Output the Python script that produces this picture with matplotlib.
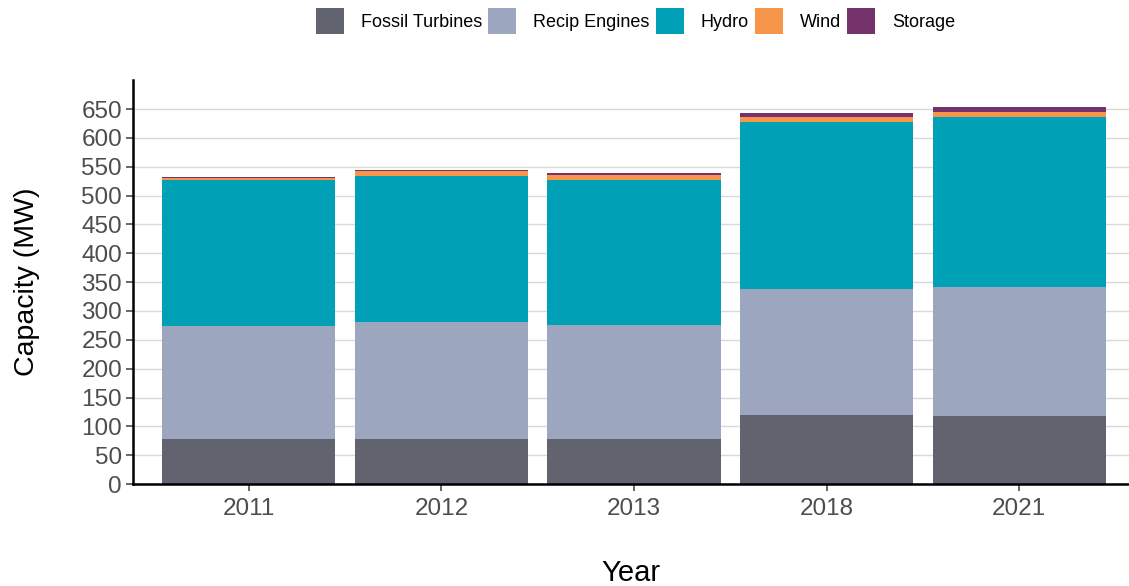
import matplotlib.pyplot as plt
import numpy as np

plt.rcParams['font.family'] = ['Liberation Sans', 'DejaVu Sans']

# Installed capacity by year (MW)
years = ['2011', '2012', '2013', '2018', '2021']
fossil = [78, 78, 78, 120, 118]
recip = [196, 203, 198, 218, 223]
hydro = [253, 253, 251, 290, 295]
wind = [3.5, 8.7, 8.7, 8.7, 8.7]
storage = [1.5, 1.5, 3.5, 7, 8.7]

series = [('Fossil Turbines', fossil, '#61646f'),
          ('Recip Engines', recip, '#9da6bf'),
          ('Hydro', hydro, '#00a0b6'),
          ('Wind', wind, '#f7964a'),
          ('Storage', storage, '#74336b')]

fig = plt.figure(figsize=(11.29, 5.86), dpi=100)
ax = fig.add_axes([0.118, 0.174, 0.882, 0.689])

x = np.arange(len(years))
bottom = np.zeros(len(years))
for name, vals, col in series:
    ax.bar(x, vals, 0.9, bottom=bottom, color=col, label=name, zorder=2)
    bottom += np.array(vals)

ax.set_xlim(-0.6, 4.57)
ax.set_ylim(0, 700)
ax.set_yticks(range(0, 651, 50))
ax.set_xticks(x)
ax.set_xticklabels(years)
ax.grid(axis='y', color='#d9d9d9', linewidth=1, zorder=0)
ax.set_axisbelow(True)

for s in ['top', 'right']:
    ax.spines[s].set_visible(False)
for s in ['left', 'bottom']:
    ax.spines[s].set_linewidth(1.8)
    ax.spines[s].set_color('black')

ax.tick_params(axis='both', labelsize=17.5, colors='#4d4d4d', length=5, width=1.2)
ax.tick_params(axis='x', pad=5)
ax.tick_params(axis='y', pad=3)
ax.set_ylabel('Capacity (MW)', fontsize=20.5, labelpad=30)
ax.set_xlabel('Year', fontsize=21, labelpad=28)

ax.legend(loc='center', bbox_to_anchor=(0.563, 0.964), bbox_transform=fig.transFigure,
          ncol=5, frameon=False, fontsize=13, handlelength=1.55, handleheight=1.9,
          handletextpad=0.95, columnspacing=0.33, borderaxespad=0)

fig.savefig('out.png', dpi=100)
